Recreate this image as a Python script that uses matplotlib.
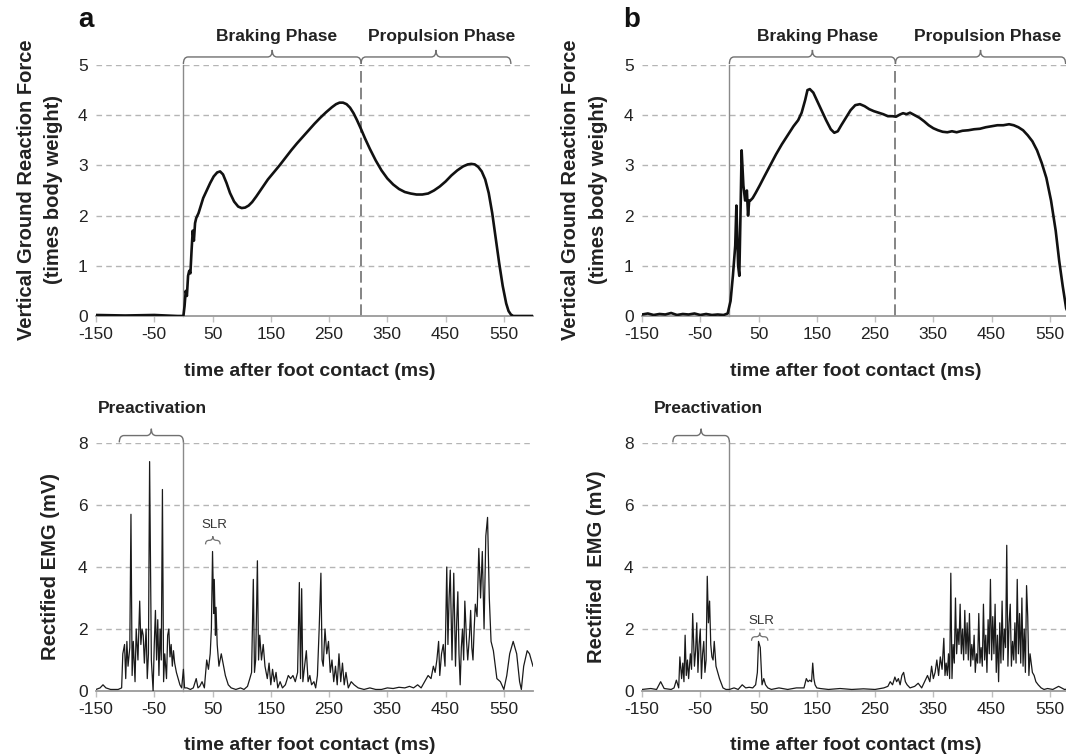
import matplotlib
matplotlib.use('Agg')
import matplotlib.pyplot as plt
from matplotlib.path import Path
from matplotlib.patches import PathPatch

plt.rcParams['font.family'] = ['Liberation Sans', 'DejaVu Sans']

# ---- data ----
x_ticks = [-150, -50, 50, 150, 250, 350, 450, 550]
grf_ticks = [0, 1, 2, 3, 4, 5]
emg_ticks = [0, 2, 4, 6, 8]

# Vertical ground reaction force, panel a  (time ms, body weights)
grf_a = [(-150, 0.02), (-100, 0.01), (-50, 0.02), (-10, 0.0), (0, 0.0), (2, 0.2), (4, 0.5),
         (6, 0.4), (8, 0.8), (10, 0.9), (12, 0.85), (14, 1.3), (16, 1.7), (18, 1.5),
         (20, 1.85), (22, 1.95), (26, 2.05), (30, 2.2), (34, 2.35), (40, 2.5), (46, 2.65),
         (52, 2.78), (58, 2.86), (63, 2.88), (68, 2.82), (74, 2.65), (80, 2.45), (87, 2.28),
         (94, 2.18), (100, 2.15), (106, 2.16), (112, 2.2), (118, 2.27), (125, 2.38),
         (135, 2.55), (145, 2.72), (155, 2.86), (165, 3.0), (175, 3.15), (185, 3.3),
         (195, 3.44), (205, 3.57), (215, 3.7), (225, 3.83), (235, 3.95), (245, 4.06),
         (255, 4.16), (262, 4.22), (268, 4.25), (274, 4.25), (280, 4.22), (286, 4.15),
         (292, 4.04), (298, 3.9), (305, 3.72), (312, 3.53), (320, 3.33), (330, 3.1),
         (340, 2.9), (350, 2.74), (360, 2.62), (370, 2.53), (380, 2.47), (390, 2.44),
         (400, 2.42), (410, 2.42), (420, 2.44), (430, 2.5), (440, 2.58), (450, 2.68),
         (460, 2.8), (470, 2.9), (480, 2.98), (488, 3.02), (494, 3.03), (500, 3.02),
         (506, 2.97), (512, 2.88), (518, 2.72), (524, 2.45), (530, 2.05), (536, 1.55),
         (542, 1.05), (548, 0.6), (554, 0.25), (558, 0.1), (562, 0.03), (566, 0.0),
         (575, 0.0), (600, 0.0)]

# Vertical ground reaction force, panel b
grf_b = [(-150, 0.03), (-140, 0.05), (-130, 0.02), (-120, 0.04), (-110, 0.03), (-100, 0.06),
         (-90, 0.02), (-80, 0.04), (-70, 0.03), (-60, 0.05), (-50, 0.02), (-40, 0.04),
         (-30, 0.02), (-20, 0.03), (-10, 0.02), (-3, 0.05), (2, 0.3), (6, 0.8), (10, 1.4),
         (12, 2.2), (15, 1.0), (17, 0.8), (19, 2.0), (21, 3.3), (24, 2.6), (27, 2.3),
         (30, 2.5), (32, 2.0), (34, 2.3), (36, 2.3), (40, 2.35), (45, 2.45), (52, 2.6),
         (60, 2.78), (70, 3.0), (80, 3.22), (90, 3.42), (100, 3.6), (110, 3.78), (118, 3.9),
         (124, 4.05), (130, 4.3), (134, 4.5), (138, 4.52), (144, 4.45), (150, 4.3),
         (158, 4.1), (166, 3.9), (174, 3.72), (180, 3.65), (186, 3.68), (192, 3.8),
         (200, 3.95), (208, 4.1), (216, 4.2), (224, 4.22), (232, 4.18), (240, 4.12),
         (248, 4.08), (256, 4.05), (264, 4.02), (272, 3.98), (280, 3.98), (286, 3.97),
         (292, 4.01), (298, 4.04), (304, 4.02), (310, 4.05), (318, 4.0), (326, 3.95),
         (334, 3.88), (342, 3.8), (350, 3.74), (358, 3.7), (366, 3.67), (374, 3.66),
         (382, 3.68), (390, 3.66), (400, 3.69), (410, 3.7), (420, 3.72), (430, 3.73),
         (440, 3.76), (450, 3.78), (460, 3.8), (470, 3.8), (480, 3.82), (488, 3.8),
         (496, 3.76), (504, 3.7), (512, 3.6), (520, 3.48), (528, 3.3), (536, 3.05),
         (544, 2.75), (552, 2.3), (560, 1.7), (566, 1.1), (572, 0.6), (578, 0.15),
         (584, 0.0), (600, 0.0)]

# Rectified EMG, panel a  (time ms, mV)
emg_a = [(-150, 0.05), (-143, 0.1), (-138, 0.2), (-133, 0.1), (-125, 0.05), (-112, 0.05),
         (-106, 0.1), (-104, 1.2), (-101, 1.5), (-99, 0.4), (-97, 1.6), (-95, 0.8),
         (-92, 1.4), (-90, 5.7), (-88, 0.5), (-86, 1.6), (-83, 0.3), (-81, 2.0), (-78, 1.0),
         (-75, 2.9), (-73, 1.5), (-71, 2.0), (-69, 1.8), (-67, 0.9), (-64, 2.0), (-62, 0.4),
         (-60, 1.2), (-58, 7.4), (-55, 1.0), (-52, 0.0), (-50, 1.5), (-48, 2.6), (-46, 1.0),
         (-44, 2.3), (-42, 0.5), (-40, 2.0), (-38, 1.0), (-36, 6.5), (-34, 0.3), (-32, 1.2),
         (-29, 0.4), (-27, 1.8), (-25, 2.0), (-23, 1.1), (-21, 1.5), (-19, 0.8), (-17, 1.3),
         (-15, 0.9), (-12, 0.6), (-9, 0.4), (-6, 0.2), (-3, 0.1), (0, 0.7), (2, 0.1),
         (6, 0.1), (12, 0.05), (17, 0.1), (22, 0.4), (25, 0.1), (28, 0.15), (32, 0.3),
         (36, 0.1), (40, 1.0), (43, 0.7), (46, 1.2), (48, 2.0), (50, 4.5), (52, 2.5),
         (53, 3.6), (55, 1.8), (56, 2.7), (58, 1.5), (61, 0.8), (65, 1.2), (68, 0.9),
         (72, 0.5), (77, 0.2), (82, 0.1), (90, 0.05), (98, 0.1), (104, 0.05), (110, 0.15),
         (114, 0.4), (117, 0.6), (120, 3.6), (122, 0.6), (124, 1.0), (127, 4.2), (129, 1.0),
         (131, 1.8), (134, 1.0), (137, 1.5), (140, 0.8), (144, 0.4), (147, 0.9), (150, 0.2),
         (153, 0.7), (156, 0.3), (159, 0.6), (162, 0.1), (166, 0.3), (170, 0.1), (175, 0.2),
         (180, 0.5), (184, 0.4), (188, 0.5), (192, 0.3), (196, 0.6), (199, 3.5), (201, 0.4),
         (203, 3.3), (205, 0.3), (208, 0.8), (211, 1.3), (214, 0.3), (217, 0.5), (220, 0.2),
         (224, 0.3), (227, 0.1), (230, 0.5), (233, 2.0), (236, 3.8), (238, 1.0), (240, 0.8),
         (243, 2.0), (246, 1.2), (249, 1.6), (252, 0.6), (255, 1.0), (258, 0.3), (261, 0.8),
         (264, 0.2), (267, 1.2), (270, 0.3), (273, 0.9), (276, 0.2), (279, 0.6), (283, 0.1),
         (288, 0.3), (293, 0.2), (300, 0.1), (310, 0.05), (320, 0.1), (330, 0.05),
         (340, 0.05), (350, 0.1), (360, 0.08), (370, 0.12), (380, 0.1), (388, 0.15),
         (395, 0.1), (402, 0.2), (408, 0.1), (414, 0.3), (420, 0.5), (425, 0.4), (429, 0.8),
         (432, 0.6), (435, 1.0), (438, 1.6), (440, 0.5), (443, 1.2), (446, 1.5), (449, 0.8),
         (452, 4.0), (454, 1.5), (456, 3.0), (458, 3.9), (461, 1.0), (464, 3.8), (467, 0.8),
         (469, 2.2), (471, 3.2), (473, 1.2), (475, 0.2), (477, 1.4), (479, 2.0), (481, 1.0),
         (483, 2.9), (486, 1.6), (488, 1.0), (491, 1.8), (493, 2.6), (495, 1.4), (497, 1.0),
         (499, 2.0), (501, 2.8), (504, 2.4), (507, 4.6), (510, 3.0), (513, 4.5), (516, 2.0),
         (519, 5.0), (522, 5.6), (525, 3.0), (528, 1.6), (532, 1.3), (538, 0.4), (544, 0.3),
         (550, 0.05), (555, 0.5), (560, 1.2), (566, 1.6), (572, 1.2), (577, 0.3), (580, 0.05),
         (584, 0.8), (590, 1.3), (594, 1.2), (600, 0.8)]

# Rectified EMG, panel b
emg_b = [(-150, 0.05), (-135, 0.08), (-125, 0.05), (-118, 0.3), (-112, 0.08), (-100, 0.05),
         (-95, 0.1), (-91, 0.35), (-87, 0.1), (-85, 1.1), (-82, 0.4), (-80, 0.9), (-78, 0.3),
         (-76, 1.8), (-74, 0.5), (-72, 1.0), (-70, 0.4), (-67, 1.2), (-65, 0.7), (-63, 2.5),
         (-60, 0.8), (-58, 1.3), (-56, 2.2), (-54, 0.6), (-52, 1.5), (-50, 2.0), (-48, 0.4),
         (-46, 1.2), (-44, 1.6), (-42, 0.6), (-40, 1.0), (-38, 3.7), (-36, 2.2), (-34, 2.9),
         (-32, 1.5), (-30, 1.1), (-28, 1.0), (-26, 1.6), (-23, 0.8), (-20, 0.6), (-17, 0.4),
         (-14, 0.25), (-11, 0.1), (-6, 0.05), (0, 0.05), (8, 0.1), (15, 0.05), (22, 0.2),
         (28, 0.1), (34, 0.12), (40, 0.1), (45, 0.2), (48, 0.6), (50, 1.6), (53, 1.4),
         (56, 0.2), (59, 0.4), (62, 0.2), (66, 0.1), (72, 0.05), (85, 0.1), (100, 0.05),
         (115, 0.1), (128, 0.1), (132, 0.4), (135, 0.3), (138, 0.35), (141, 0.3), (143, 0.9),
         (145, 0.4), (147, 0.2), (150, 0.1), (156, 0.08), (170, 0.05), (190, 0.08),
         (210, 0.05), (230, 0.07), (250, 0.05), (265, 0.1), (272, 0.15), (276, 0.3),
         (280, 0.2), (284, 0.45), (287, 0.3), (290, 0.4), (293, 0.2), (296, 0.5), (299, 0.6),
         (302, 0.3), (305, 0.2), (310, 0.1), (318, 0.15), (324, 0.25), (330, 0.1), (335, 0.3),
         (340, 0.5), (344, 0.3), (347, 0.8), (350, 0.4), (353, 0.6), (356, 1.0), (359, 0.5),
         (362, 1.1), (365, 0.7), (368, 1.7), (370, 0.5), (372, 0.9), (374, 0.5), (376, 1.2),
         (378, 0.4), (380, 3.8), (382, 0.4), (384, 1.5), (386, 0.9), (388, 3.0), (390, 1.2),
         (392, 2.0), (394, 1.5), (396, 2.8), (398, 1.2), (400, 2.0), (402, 1.0), (404, 2.6),
         (406, 1.2), (408, 2.2), (410, 1.0), (412, 2.5), (414, 0.8), (416, 1.5), (418, 1.0),
         (420, 1.8), (422, 0.6), (424, 1.2), (426, 0.9), (428, 2.5), (430, 0.9), (432, 1.4),
         (434, 0.8), (436, 2.8), (438, 1.0), (440, 1.8), (442, 0.6), (444, 2.3), (446, 1.2),
         (448, 3.6), (450, 1.0), (452, 2.4), (454, 1.2), (456, 2.8), (458, 0.6), (460, 1.8),
         (462, 0.3), (464, 2.2), (466, 0.9), (468, 2.9), (470, 1.0), (472, 2.0), (474, 1.4),
         (476, 4.7), (478, 0.8), (480, 2.2), (482, 2.8), (484, 0.8), (486, 1.6), (488, 1.0),
         (490, 2.2), (492, 0.9), (494, 3.6), (496, 1.2), (498, 2.5), (500, 0.9), (502, 3.0),
         (504, 0.8), (506, 2.0), (508, 0.6), (510, 3.4), (512, 2.4), (514, 0.5), (516, 1.2),
         (518, 0.9), (520, 0.6), (523, 0.5), (526, 0.3), (530, 0.2), (535, 0.1), (540, 0.05),
         (546, 0.08), (555, 0.05), (565, 0.15), (575, 0.05), (590, 0.08), (600, 0.05)]

W, H = 1066, 755
LINE_GRAY = '#707070'


def add_axes_px(fig, left, right, y_zero, y_top):
    return fig.add_axes([left / W, 1 - y_zero / H, (right - left) / W, (y_zero - y_top) / H])


def style_axes(ax, ymax, yticks):
    ax.set_xlim(-150, 600)
    ax.set_ylim(0, ymax)
    ax.set_xticks(x_ticks)
    ax.set_xticklabels([str(t) for t in x_ticks])
    ax.set_yticks(yticks)
    for side in ['top', 'right', 'left']:
        ax.spines[side].set_visible(False)
    ax.spines['bottom'].set_color('#9a9a9a')
    ax.spines['bottom'].set_linewidth(1.3)
    ax.tick_params(axis='x', length=4, width=1, color='#c0c0c0', labelsize=12.5,
                   pad=4, labelcolor='#222222')
    ax.tick_params(axis='y', length=0, labelsize=12.5, pad=6, labelcolor='#222222')
    for yv in yticks[1:]:
        ax.axhline(yv, color='#b5b5b5', lw=1.0, ls=(0, (4, 3)), zorder=0)
    ax.set_xlabel('time after foot contact (ms)', fontsize=14, fontweight='bold',
                  color='#222222')


def draw_brace(ax, x0, x1, y, h, rx, xm=None, lw=1.0):
    if xm is None:
        xm = (x0 + x1) / 2
    verts = [(x0, y - h), (x0, y), (x0 + rx, y),
             (xm - rx, y), (xm, y), (xm, y + h),
             (xm, y), (xm + rx, y),
             (x1 - rx, y), (x1, y), (x1, y - h)]
    codes = [Path.MOVETO, Path.CURVE3, Path.CURVE3,
             Path.LINETO, Path.CURVE3, Path.CURVE3,
             Path.CURVE3, Path.CURVE3,
             Path.LINETO, Path.CURVE3, Path.CURVE3]
    ax.add_patch(PathPatch(Path(verts, codes), fill=False, lw=lw, ec=LINE_GRAY,
                           clip_on=False))


def plot_grf(ax, data, split, prop_end, brake_lbl, prop_lbl):
    t, v = zip(*data)
    style_axes(ax, 5, grf_ticks)
    ax.plot(t, v, color='#111111', lw=1.9, zorder=3)
    ax.plot([0, 0], [0, 5.0], color='#8a8a8a', lw=1.0, clip_on=False)
    ax.plot([split, split], [0, 5.0], color=LINE_GRAY, lw=1.2, ls=(0, (7, 3)))
    draw_brace(ax, 0, split, 5.16, 0.14, 8)
    draw_brace(ax, split, prop_end, 5.16, 0.14, 8)
    ax.text(brake_lbl, 5.57, 'Braking Phase', ha='center', va='center', fontsize=12.5,
            fontweight='bold', color='#222222', clip_on=False)
    ax.text(prop_lbl, 5.57, 'Propulsion Phase', ha='center', va='center', fontsize=12.5,
            fontweight='bold', color='#222222', clip_on=False)


def plot_emg(ax, data, pre_start, pre_lbl, slr, slr_y):
    t, v = zip(*data)
    style_axes(ax, 8, emg_ticks)
    ax.plot(t, v, color='#1a1a1a', lw=0.9, zorder=3)
    ax.plot([0, 0], [0, 8.02], color='#8a8a8a', lw=1.0, clip_on=False)
    draw_brace(ax, pre_start, 0, 8.24, 0.22, 8)
    ax.text(pre_lbl, 9.1, 'Preactivation', ha='center', va='center', fontsize=12.5,
            fontweight='bold', color='#222222', clip_on=False)
    draw_brace(ax, slr[0], slr[1], slr_y, 0.13, 6, lw=0.9)
    ax.text((slr[0] + slr[1]) / 2 + 2, slr_y + 0.5, 'SLR', ha='center', va='center',
            fontsize=9.5, color='#333333')


def plot():
    fig = plt.figure(figsize=(W / 100, H / 100), dpi=100)

    ax_a = add_axes_px(fig, 96, 533, 316, 65)
    ax_b = add_axes_px(fig, 642, 1079, 316, 65)
    ax_c = add_axes_px(fig, 96, 533, 691, 443)
    ax_d = add_axes_px(fig, 642, 1079, 691, 443)

    plot_grf(ax_a, grf_a, 305, 562, 160, 443)
    plot_grf(ax_b, grf_b, 285, 577, 152, 444)
    plot_emg(ax_c, emg_a, -110, -53, (38, 63), 4.86)
    plot_emg(ax_d, emg_b, -97, -36, (38, 66), 1.75)

    # x label centres: ~372 px (top row) and ~745 px (bottom row)
    ax_a.xaxis.set_label_coords(0.49, -(372 - 316) / 251)
    ax_b.xaxis.set_label_coords(0.49, -(372 - 316) / 251)
    ax_c.xaxis.set_label_coords(0.49, -(745 - 691) / 248)
    ax_d.xaxis.set_label_coords(0.49, -(745 - 691) / 248)
    for ax in (ax_a, ax_b, ax_c, ax_d):
        ax.xaxis.label.set_va('center')

    lbl = dict(rotation=90, ha='center', va='center', fontsize=14.5, fontweight='bold',
               color='#222222')
    fig.text(27 / W, 1 - 190 / H, 'Vertical Ground Reaction Force', **lbl)
    fig.text(54 / W, 1 - 190 / H, '(times body weight)', **lbl)
    fig.text(571 / W, 1 - 190 / H, 'Vertical Ground Reaction Force', **lbl)
    fig.text(598 / W, 1 - 190 / H, '(times body weight)', **lbl)
    fig.text(51 / W, 1 - 567 / H, 'Rectified EMG (mV)', **lbl)
    fig.text(597 / W, 1 - 567 / H, 'Rectified  EMG (mV)', **lbl)

    fig.text(86 / W, 1 - 20 / H, 'a', fontsize=20, fontweight='bold', ha='center',
             va='center', color='#111111')
    fig.text(632 / W, 1 - 20 / H, 'b', fontsize=20, fontweight='bold', ha='center',
             va='center', color='#111111')

    fig.savefig('out.png', dpi=100)


if __name__ == "__main__":
    plot()
